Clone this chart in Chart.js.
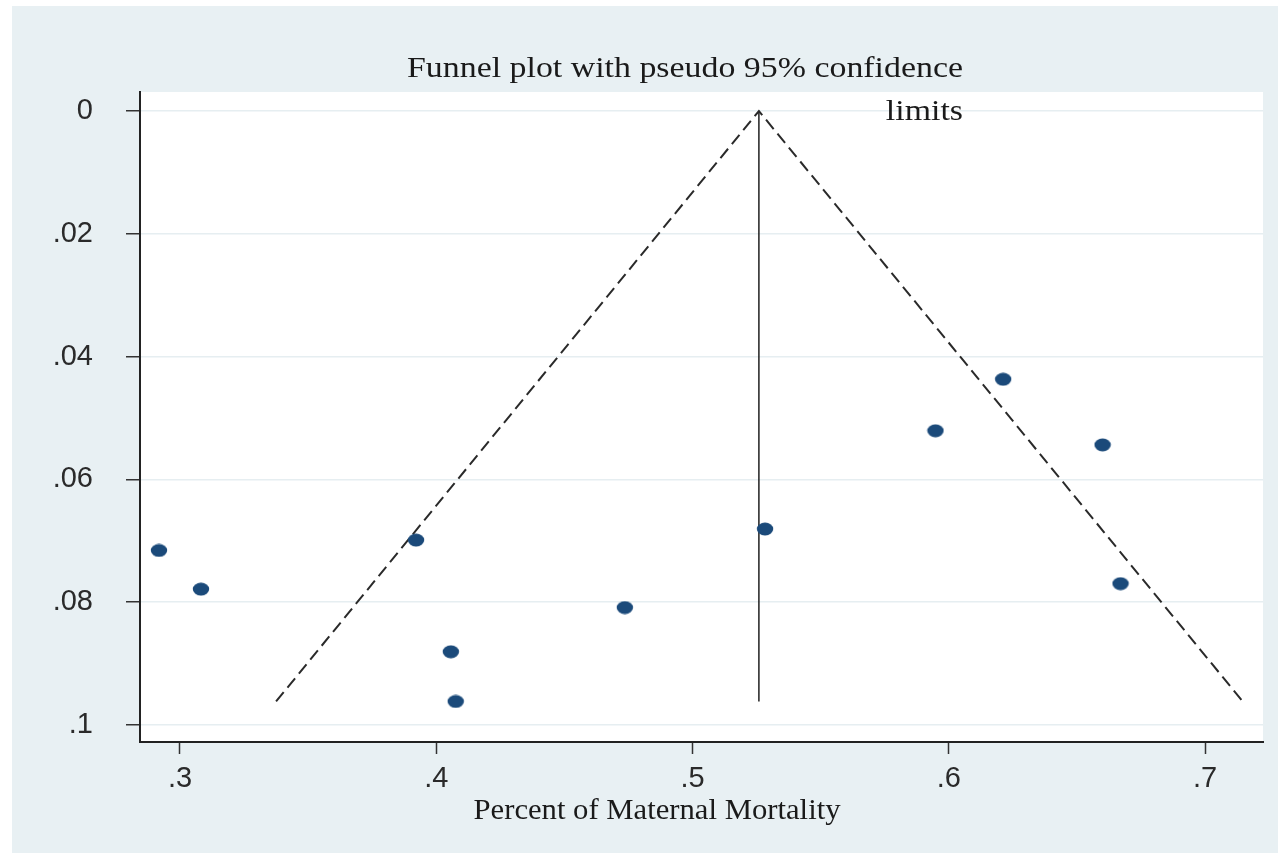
<!DOCTYPE html>
<html>
<head>
<meta charset="utf-8">
<script src="https://cdn.jsdelivr.net/npm/chart.js@4"></script>
<style>
  body { margin: 0; background: #ffffff; }
  #wrap { width: 1278px; height: 853px; }
</style>
</head>
<body>
<div id="wrap"><canvas id="funnel" width="1278" height="853"></canvas></div>
<script>
// effect sizes (x) and standard errors (y)
const effectSizes = [0.2918, 0.3082, 0.3921, 0.4057, 0.4076, 0.4736, 0.5283, 0.5948, 0.6212, 0.6600, 0.6670];
const standardErrors = [0.0716, 0.0779, 0.0699, 0.0881, 0.0962, 0.0809, 0.0681, 0.0521, 0.0437, 0.0544, 0.0770];

// pseudo 95% limits and pooled estimate
const funnelX = [0.3375, 0.5259, 0.7147];
const funnelSE = [0.0962, 0, 0.0962];
const pooledX = [0.5259, 0.5259];
const pooledSE = [0, 0.0962];

// ticks
const xTicks = [0.3, 0.4, 0.5, 0.6, 0.7];
const xTickLabels = ['.3', '.4', '.5', '.6', '.7'];
const yTicks = [0, 0.02, 0.04, 0.06, 0.08, 0.1];
const yTickLabels = ['0', '.02', '.04', '.06', '.08', '.1'];

const titleLine1 = 'Funnel plot with pseudo 95% confidence';
const titleLine2 = 'limits';
const xTitle = 'Percent of Maternal Mortality';

// ellipse marker like the original
function makeMarker() {
    const c = document.createElement('canvas');
    c.width = 18; c.height = 14;
    const g = c.getContext('2d');
    g.fillStyle = '#1b4a7a';
    g.beginPath();
    g.ellipse(9, 7, 8.2, 6.4, 0, 0, Math.PI * 2);
    g.fill();
    return c;
}
const marker = makeMarker();

// texto serif algo estirado a lo ancho, como en la imagen original
function textoAncho(ctx, txt, x, y, ancho, align) {
    const w = ctx.measureText(txt).width;
    const k = ancho / w;
    ctx.save();
    ctx.translate(x, y);
    ctx.scale(k, 1);
    ctx.textAlign = align;
    ctx.fillText(txt, 0, 0);
    ctx.restore();
}

const fondo = {
    id: 'fondo',
    beforeDraw(chart) {
        const ctx = chart.ctx;
        const a = chart.chartArea;
        ctx.save();
        ctx.fillStyle = '#ffffff';
        ctx.fillRect(0, 0, chart.width, chart.height);
        ctx.fillStyle = '#e8f0f3';
        ctx.fillRect(12, 6, chart.width - 12, chart.height - 6);
        ctx.fillStyle = '#ffffff';
        ctx.fillRect(a.left, a.top, a.right - a.left, a.bottom - a.top);
        ctx.restore();
    },
    afterDraw(chart) {
        const ctx = chart.ctx;
        const a = chart.chartArea;
        ctx.save();
        ctx.fillStyle = '#1a1a1a';
        ctx.font = '29px "Liberation Serif", "DejaVu Serif", serif';
        ctx.textBaseline = 'alphabetic';
        textoAncho(ctx, titleLine1, 685, a.top - 15, 556, 'center');
        const k1 = 556 / ctx.measureText(titleLine1).width;
        textoAncho(ctx, titleLine2, 963, a.top + 28, ctx.measureText(titleLine2).width * k1, 'right');
        textoAncho(ctx, xTitle, 657, a.bottom + 77, 367, 'center');
        ctx.restore();
    }
};

const ctx = document.getElementById('funnel').getContext('2d');
new Chart(ctx, {
    type: 'scatter',
    data: {
        datasets: [
            {
                label: 'Studies',
                data: effectSizes.map((x, i) => ({ x: x, y: standardErrors[i] })),
                pointStyle: marker,
                pointRadius: 8,
                showLine: false,
                order: 0
            },
            {
                label: 'Limits',
                type: 'line',
                data: funnelX.map((x, i) => ({ x: x, y: funnelSE[i] })),
                borderColor: '#2a2a2a',
                borderWidth: 2,
                borderDash: [12, 6],
                pointRadius: 0,
                fill: false,
                tension: 0,
                order: 1
            },
            {
                label: 'Pooled',
                type: 'line',
                data: pooledX.map((x, i) => ({ x: x, y: pooledSE[i] })),
                borderColor: '#111111',
                borderWidth: 1.4,
                pointRadius: 0,
                fill: false,
                order: 2
            }
        ]
    },
    options: {
        responsive: false,
        animation: false,
        layout: { padding: { top: 92, right: 15, left: 0, bottom: 0 } },
        plugins: {
            legend: { display: false },
            title: { display: false },
            tooltip: { enabled: false }
        },
        scales: {
            x: {
                type: 'linear',
                min: 0.2844,
                max: 0.7226,
                afterBuildTicks: (s) => { s.ticks = xTicks.map(v => ({ value: v })); },
                afterFit: (s) => { s.height = 111; },
                border: { display: true, color: '#222222', width: 2 },
                grid: { drawOnChartArea: false, tickColor: '#333333', tickLength: 12, tickWidth: 1.5 },
                ticks: {
                    padding: 8,
                    color: '#2a2a2a',
                    font: { family: '"Liberation Sans", Arial, sans-serif', size: 29 },
                    callback: (v, i) => xTickLabels[i]
                }
            },
            y: {
                type: 'linear',
                reverse: true,
                min: -0.0031,
                max: 0.1028,
                afterBuildTicks: (s) => { s.ticks = yTicks.map(v => ({ value: v })); },
                afterFit: (s) => { s.width = 140; },
                border: { display: true, color: '#222222', width: 2 },
                grid: { color: '#e6eef1', lineWidth: 1.5, tickColor: '#333333', tickLength: 14, tickWidth: 1.5 },
                ticks: {
                    padding: 33,
                    color: '#2a2a2a',
                    font: { family: '"Liberation Sans", Arial, sans-serif', size: 29 },
                    callback: (v, i) => yTickLabels[i]
                }
            }
        }
    },
    plugins: [fondo]
});
</script>
</body>
</html>
